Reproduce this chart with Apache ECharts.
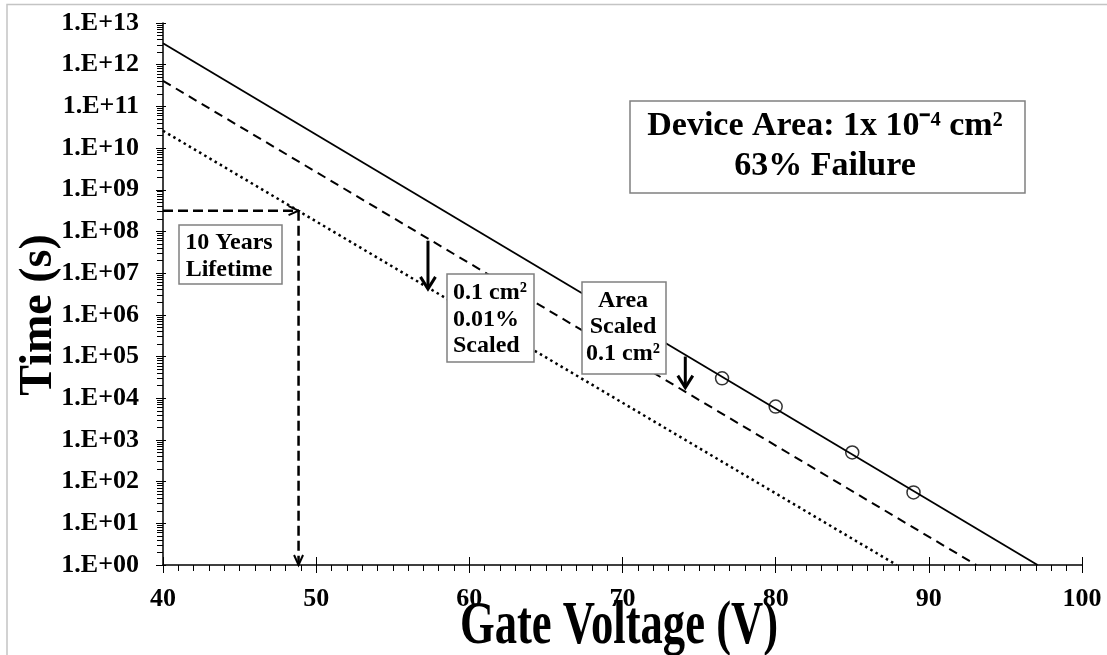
<!DOCTYPE html>
<html>
<head>
<meta charset="utf-8">
<script src="https://cdn.jsdelivr.net/npm/echarts@6/dist/echarts.min.js"></script>
<style>
  html, body { margin: 0; padding: 0; background: #fff; }
  #chart { width: 1107px; height: 655px; }
</style>
</head>
<body>
<div id="chart"></div>
<script>
const FONT = '"Liberation Serif", "Times New Roman", serif';

// Measured time-to-breakdown (63% failure, 1e-4 cm² devices)
const measuredVoltages = [76.5, 80, 85, 89];
const measuredTimes = [3.0e4, 6.3e3, 5.0e2, 5.5e1];

// Extrapolated lifetime lines, given by their end points
const fitVoltages = [40, 97.1];
const fitTimes = [3.25e12, 1];
const areaScaledVoltages = [40, 93.1];
const areaScaledTimes = [4.1e11, 1];
const failureScaledVoltages = [40, 87.9];
const failureScaledTimes = [2.6e10, 1];

// 10-year lifetime guide
const lifetimeSeconds = 3.15e8;
const lifetimeVoltage = 48.85;

// Scaling arrows: voltage, start time, end time
const shiftVoltages = [57.3, 74.1];
const shiftFromTimes = [6.0e7, 1.0e5];
const shiftToTimes = [4.2e6, 1.8e4];

// Axis ticks
const xMin = 40, xMax = 100, xStep = 10;
const yDecades = [];
for (let k = 0; k <= 13; k++) yDecades.push(Math.pow(10, k));
const yMinorTicks = [];
for (let k = 0; k < 13; k++) for (let m = 2; m <= 9; m++) yMinorTicks.push(m * Math.pow(10, k));

const zip = (xs, ys) => xs.map((x, i) => [x, ys[i]]);

function decadeLabel(v) {
  const e = Math.round(Math.log10(v));
  return '1.E+' + (e < 10 ? '0' : '') + e;
}

function arrowHead(p1, p2, len, half) {
  const dx = p2[0] - p1[0], dy = p2[1] - p1[1];
  const d = Math.hypot(dx, dy) || 1;
  const ux = dx / d, uy = dy / d, nx = -uy, ny = ux;
  return [
    [p2[0] - ux * len + nx * half, p2[1] - uy * len + ny * half],
    [p2[0], p2[1]],
    [p2[0] - ux * len - nx * half, p2[1] - uy * len - ny * half]
  ];
}

function arrowRenderer(shaftStyle, headLen, headHalf, headWidth) {
  return function (params, api) {
    const p1 = api.coord([api.value(0), api.value(1)]);
    const p2 = api.coord([api.value(2), api.value(3)]);
    return {
      type: 'group',
      children: [
        { type: 'line', shape: { x1: p1[0], y1: p1[1], x2: p2[0], y2: p2[1] }, style: shaftStyle },
        { type: 'polyline', shape: { points: arrowHead(p1, p2, headLen, headHalf) },
          style: { stroke: '#000', lineWidth: headWidth, fill: null } }
      ]
    };
  };
}

const lifetimeArrows = [
  [xMin, lifetimeSeconds, lifetimeVoltage, lifetimeSeconds],
  [lifetimeVoltage, lifetimeSeconds, lifetimeVoltage, 1]
];
const shiftArrows = shiftVoltages.map((v, i) => [v, shiftFromTimes[i], v, shiftToTimes[i]]);

const tickLabelStyle = { color: '#000', fontFamily: FONT, fontWeight: 'bold', fontSize: 26 };

function textBox(rect, lines, font, lineHeight, align, tx, ty) {
  return {
    type: 'group',
    z: 100,
    children: [
      { type: 'rect', shape: rect, style: { fill: '#fff', stroke: '#808080', lineWidth: 1.5 }, z: 100 },
      { type: 'text', z: 101,
        style: { text: lines.join('\n'), x: tx, y: ty, font: font, lineHeight: lineHeight,
                 align: align, textAlign: align, verticalAlign: 'middle', textVerticalAlign: 'middle', fill: '#000' } }
    ]
  };
}

const option = {
  animation: false,
  backgroundColor: '#fff',
  grid: { left: 163, right: 25, top: 23, bottom: 90, containLabel: false, outerBoundsMode: 'none' },
  xAxis: [
    {
      type: 'value', min: xMin, max: xMax, interval: xStep,
      axisLine: { lineStyle: { color: '#000', width: 1.5 } },
      axisTick: { length: 8, lineStyle: { color: '#000', width: 1 } },
      minorTick: { show: true, splitNumber: 10, length: 6, lineStyle: { color: '#000', width: 1 } },
      splitLine: { show: false },
      axisLabel: Object.assign({ margin: 21 }, tickLabelStyle)
    },
    {
      type: 'value', min: xMin, max: xMax, interval: xStep, position: 'bottom', offset: 0,
      axisLine: { show: false },
      axisTick: { inside: true, length: 8, lineStyle: { color: '#000', width: 1 } },
      splitLine: { show: false },
      axisLabel: { show: false }
    }
  ],
  yAxis: [
    {
      type: 'log', logBase: 10, min: 1, max: 1e13,
      axisLine: { show: true, lineStyle: { color: '#000', width: 1.5 } },
      axisTick: { show: true, length: 7, customValues: yDecades, lineStyle: { color: '#000', width: 1 } },
      splitLine: { show: false },
      axisLabel: Object.assign({ margin: 24, customValues: yDecades, formatter: decadeLabel }, tickLabelStyle)
    },
    {
      type: 'log', logBase: 10, min: 1, max: 1e13, position: 'left', offset: 0,
      axisLine: { show: false },
      axisTick: { show: true, length: 6, customValues: yMinorTicks, lineStyle: { color: '#000', width: 1 } },
      splitLine: { show: false },
      axisLabel: { show: false }
    },
    {
      type: 'log', logBase: 10, min: 1, max: 1e13, position: 'left', offset: 0,
      axisLine: { show: false },
      axisTick: { show: true, inside: true, length: 3, customValues: yDecades, lineStyle: { color: '#000', width: 1 } },
      splitLine: { show: false },
      axisLabel: { show: false }
    }
  ],
  series: [
    {
      name: 'Fit', type: 'line', data: zip(fitVoltages, fitTimes), symbol: 'none',
      lineStyle: { color: '#000', width: 1.8 }, z: 2
    },
    {
      name: 'Area Scaled 0.1 cm²', type: 'line', data: zip(areaScaledVoltages, areaScaledTimes), symbol: 'none',
      lineStyle: { color: '#000', width: 2, type: [9, 6] }, z: 2
    },
    {
      name: '0.1 cm² 0.01% Scaled', type: 'line', data: zip(failureScaledVoltages, failureScaledTimes), symbol: 'none',
      lineStyle: { color: '#000', width: 2.5, type: [2.5, 3.5] }, z: 2
    },
    {
      name: 'Measured', type: 'scatter', data: zip(measuredVoltages, measuredTimes),
      symbol: 'circle', symbolSize: 13,
      itemStyle: { color: 'rgba(255,255,255,0)', borderColor: '#000', borderWidth: 1.5 }, z: 4
    },
    {
      name: 'Lifetime', type: 'custom', data: lifetimeArrows, clip: false, silent: true, z: 3,
      renderItem: arrowRenderer({ stroke: '#000', lineWidth: 2.5, lineDash: [10, 5] }, 10, 4.5, 2)
    },
    {
      name: 'Shift', type: 'custom', data: shiftArrows, clip: false, silent: true, z: 3,
      renderItem: arrowRenderer({ stroke: '#000', lineWidth: 3 }, 12, 7.5, 3)
    }
  ],
  graphic: [
    { type: 'rect', shape: { x: 7, y: 4.5, width: 1300, height: 900 },
      style: { fill: null, stroke: '#c4c4c4', lineWidth: 1.5 }, z: 0, silent: true },
    textBox({ x: 630, y: 101, width: 395, height: 92 },
      ['Device Area: 1x 10\u207B\u2074 cm\u00B2', '63% Failure'],
      'bold 34px ' + FONT, 39.5, 'center', 825, 146),
    textBox({ x: 179, y: 225, width: 103, height: 59 },
      ['10 Years', 'Lifetime'],
      'bold 24px ' + FONT, 26.7, 'center', 229, 256),
    textBox({ x: 447, y: 274, width: 87, height: 88 },
      ['0.1 cm\u00B2', '0.01%', 'Scaled'],
      'bold 24px ' + FONT, 26.7, 'left', 453, 319.5),
    textBox({ x: 582, y: 282, width: 84, height: 92 },
      ['Area', 'Scaled', '0.1 cm\u00B2'],
      'bold 24px ' + FONT, 26.3, 'center', 623, 327),
    { type: 'text', z: 100, x: 619, y: 627, scaleX: 0.72,
      style: { text: 'Gate Voltage (V)', x: 0, y: 0, font: 'bold 62px ' + FONT,
               align: 'center', textAlign: 'center', verticalAlign: 'middle', textVerticalAlign: 'middle', fill: '#000' } },
    { type: 'text', z: 100, x: 39, y: 315, rotation: Math.PI / 2,
      style: { text: 'Time (s)', x: 0, y: 0, font: 'bold 46px ' + FONT,
               align: 'center', textAlign: 'center', verticalAlign: 'middle', textVerticalAlign: 'middle', fill: '#000' } }
  ]
};

const chart = echarts.init(document.getElementById('chart'));
chart.setOption(option);
</script>
</body>
</html>
